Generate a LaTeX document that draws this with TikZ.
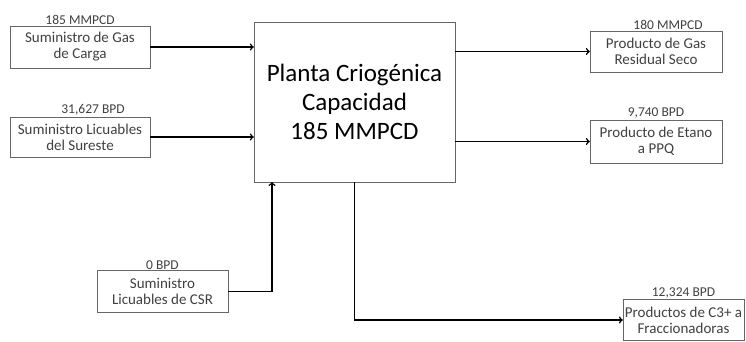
\documentclass[tikz,border=0pt]{standalone}
\usepackage{fontspec}
\setmainfont{Carlito}
\usepackage{tikz}
\usetikzlibrary{arrows, positioning}

\begin{document}
\begin{tikzpicture}[x=1pt, y=-1pt,
    stream/.style={rectangle, draw=black!60, text=black!75, text centered, align=center, inner sep=1pt, font=\fontsize{15}{16}\selectfont},
    plant/.style={rectangle, draw=black!60, minimum width=201pt, minimum height=160pt, align=center, font=\fontsize{25}{29}\selectfont},
    rate/.style={text=black!75, inner sep=1pt, font=\fontsize{13.5}{15}\selectfont},
    arrow/.style={line width=1.5pt,->,>=to}]

\useasboundingbox (0,0) rectangle (746,341);

\node (plant) [plant] at (354.5,102) {Planta Criogénica\\Capacidad\\185 MMPCD};

\node (gas) [stream, minimum width=140pt, minimum height=42pt] at (80,47) {Suministro de Gas\\de Carga};
\node (lic) [stream, minimum width=140pt, minimum height=40pt] at (80,137) {Suministro Licuables\\del Sureste};
\node (csr) [stream, minimum width=131pt, minimum height=42pt] at (162.5,291.5) {Suministro\\Licuables de CSR};
\node (dry) [stream, minimum width=132pt, minimum height=41pt] at (656,51.5) {Producto de Gas\\Residual Seco};
\node (eth) [stream, minimum width=132pt, minimum height=43pt] at (656,141.5) {Producto de Etano\\a PPQ};
\node (heavy) [stream, minimum width=121pt, minimum height=41pt] at (683.5,320) {Productos de C3+ a\\Fraccionadoras};

\node (gasrate) [rate, above=0pt of gas] {185 MMPCD};
\node (licrate) [rate, above=0pt of lic, xshift=13pt] {31,627 BPD};
\node (csrrate) [rate, above=0pt of csr] {0 BPD};
\node (dryrate) [rate, above=0pt of dry, xshift=12pt] {180 MMPCD};
\node (ethrate) [rate, above=0pt of eth] {9,740 BPD};
\node (heavyrate) [rate, above=0pt of heavy] {12,324 BPD};

\coordinate (csrin) at (272,182);

\draw [arrow] (gas) -- (plant.west |- gas);
\draw [arrow] (lic) -- (plant.west |- lic);
\draw [arrow] (csr.east) -| (csrin);
\draw [arrow] (plant.east |- dry.west) -- (dry);
\draw [arrow] (plant.east |- eth.west) -- (eth);
\draw [arrow] (plant.south) |- (heavy.west);

\end{tikzpicture}
\end{document}
